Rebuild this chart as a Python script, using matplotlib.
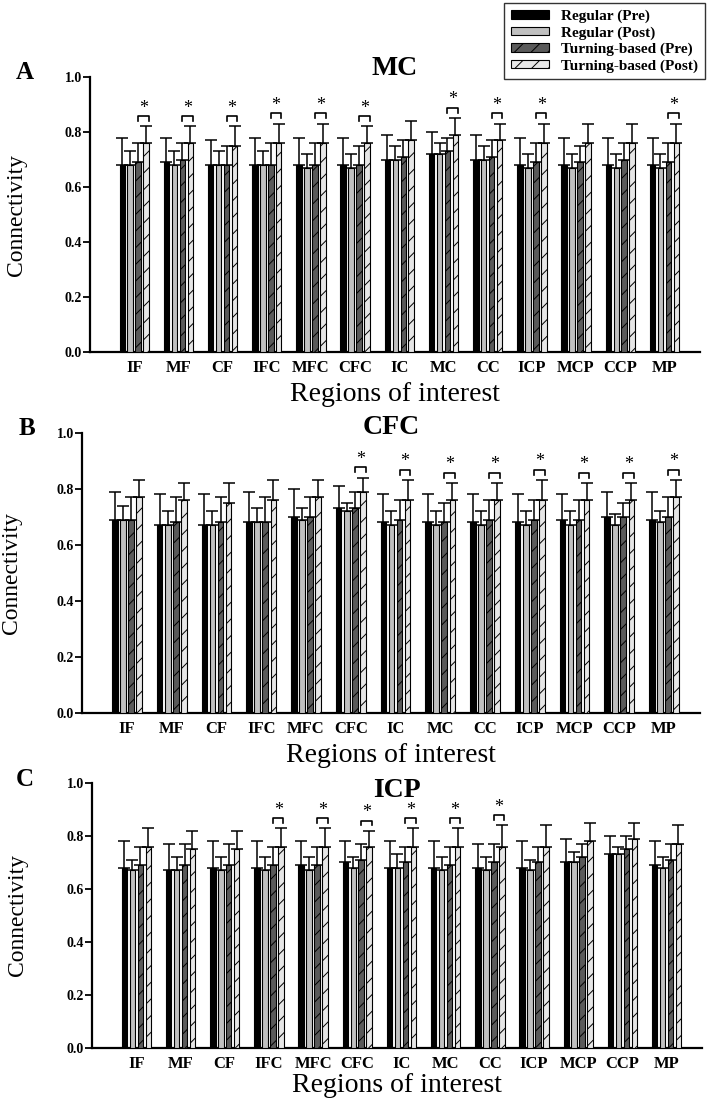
import matplotlib
matplotlib.use('Agg')
import matplotlib.pyplot as plt
import numpy as np

plt.rcParams['font.family'] = ['Liberation Serif', 'DejaVu Serif']
plt.rcParams['font.weight'] = 'bold'
plt.rcParams['hatch.linewidth'] = 0.7

regions = ['IF', 'MF', 'CF', 'IFC', 'MFC', 'CFC', 'IC', 'MC', 'CC', 'ICP', 'MCP', 'CCP', 'MP']
groups = ['Regular (Pre)', 'Regular (Post)', 'Turning-based (Pre)', 'Turning-based (Post)']

# panel A - seed MC
mc_reg_pre = [0.68, 0.69, 0.68, 0.68, 0.68, 0.68, 0.70, 0.72, 0.70, 0.68, 0.68, 0.68, 0.68]
mc_reg_post = [0.68, 0.68, 0.68, 0.68, 0.67, 0.67, 0.70, 0.72, 0.70, 0.67, 0.67, 0.67, 0.67]
mc_turn_pre = [0.69, 0.70, 0.68, 0.68, 0.68, 0.68, 0.71, 0.73, 0.71, 0.69, 0.69, 0.70, 0.69]
mc_turn_post = [0.76, 0.76, 0.75, 0.76, 0.76, 0.76, 0.77, 0.79, 0.77, 0.76, 0.76, 0.76, 0.76]
mc_reg_pre_sd = [0.10, 0.09, 0.09, 0.10, 0.10, 0.10, 0.09, 0.08, 0.09, 0.10, 0.10, 0.10, 0.10]
mc_reg_post_sd = [0.05, 0.05, 0.05, 0.05, 0.05, 0.05, 0.05, 0.04, 0.05, 0.05, 0.05, 0.05, 0.05]
mc_turn_pre_sd = [0.07, 0.06, 0.07, 0.08, 0.08, 0.07, 0.06, 0.05, 0.06, 0.07, 0.06, 0.06, 0.07]
mc_turn_post_sd = [0.06, 0.06, 0.07, 0.07, 0.07, 0.06, 0.07, 0.06, 0.06, 0.07, 0.07, 0.07, 0.07]
mc_sig = [1, 1, 1, 1, 1, 1, 0, 1, 1, 1, 0, 0, 1]

# panel B - seed CFC
cfc_reg_pre = [0.69, 0.67, 0.67, 0.68, 0.70, 0.73, 0.68, 0.68, 0.68, 0.68, 0.69, 0.70, 0.69]
cfc_reg_post = [0.69, 0.67, 0.67, 0.68, 0.69, 0.72, 0.67, 0.67, 0.67, 0.67, 0.67, 0.67, 0.68]
cfc_turn_pre = [0.69, 0.68, 0.68, 0.68, 0.70, 0.73, 0.69, 0.68, 0.69, 0.69, 0.69, 0.70, 0.70]
cfc_turn_post = [0.77, 0.76, 0.75, 0.76, 0.77, 0.79, 0.76, 0.76, 0.76, 0.76, 0.76, 0.76, 0.77]
cfc_reg_pre_sd = [0.10, 0.11, 0.11, 0.11, 0.10, 0.08, 0.10, 0.10, 0.10, 0.10, 0.09, 0.09, 0.10]
cfc_reg_post_sd = [0.05, 0.05, 0.05, 0.05, 0.04, 0.03, 0.05, 0.05, 0.05, 0.05, 0.05, 0.04, 0.04]
cfc_turn_pre_sd = [0.08, 0.09, 0.09, 0.09, 0.07, 0.06, 0.07, 0.07, 0.07, 0.07, 0.07, 0.05, 0.07]
cfc_turn_post_sd = [0.06, 0.06, 0.07, 0.07, 0.06, 0.05, 0.07, 0.06, 0.06, 0.07, 0.06, 0.06, 0.06]
cfc_sig = [0, 0, 0, 0, 0, 1, 1, 1, 1, 1, 1, 1, 1]

# panel C - seed ICP
icp_reg_pre = [0.68, 0.67, 0.68, 0.68, 0.69, 0.70, 0.68, 0.68, 0.68, 0.68, 0.70, 0.73, 0.69]
icp_reg_post = [0.67, 0.67, 0.67, 0.67, 0.67, 0.68, 0.68, 0.67, 0.67, 0.67, 0.70, 0.73, 0.68]
icp_turn_pre = [0.69, 0.69, 0.69, 0.69, 0.69, 0.71, 0.70, 0.69, 0.70, 0.70, 0.72, 0.75, 0.71]
icp_turn_post = [0.76, 0.75, 0.75, 0.76, 0.76, 0.76, 0.76, 0.76, 0.76, 0.76, 0.78, 0.79, 0.77]
icp_reg_pre_sd = [0.10, 0.10, 0.10, 0.10, 0.09, 0.08, 0.10, 0.10, 0.09, 0.10, 0.09, 0.07, 0.09]
icp_reg_post_sd = [0.04, 0.05, 0.05, 0.05, 0.05, 0.04, 0.05, 0.05, 0.05, 0.04, 0.04, 0.03, 0.04]
icp_turn_pre_sd = [0.07, 0.08, 0.08, 0.07, 0.07, 0.06, 0.06, 0.07, 0.07, 0.06, 0.05, 0.05, 0.06]
icp_turn_post_sd = [0.07, 0.07, 0.07, 0.07, 0.07, 0.06, 0.07, 0.07, 0.08, 0.08, 0.07, 0.06, 0.07]
icp_sig = [0, 0, 0, 1, 1, 1, 1, 1, 1, 0, 0, 0, 0]

bar_colors = ['#000000', '#c0c0c0', '#5a5a5a', '#e6e6e6']
bar_hatches = [None, None, '//', '//']
offsets = [-0.27, -0.09, 0.09, 0.27]
bar_w = 0.125


def draw_panel(ax, letter, title, means, sds, sig, letter_x, title_y, ylab_x, xlab_pad):
    x = np.arange(len(regions))
    handles = []
    for k in range(4):
        b = ax.bar(x + offsets[k], means[k], bar_w, color=bar_colors[k], edgecolor='black',
                   linewidth=0.8, hatch=bar_hatches[k], label=groups[k], zorder=3)
        handles.append(b)
        ax.errorbar(x + offsets[k], means[k], yerr=[np.zeros(len(x)), sds[k]], fmt='none',
                    ecolor='black', elinewidth=1.1, capsize=4.5, capthick=1.1, zorder=2)
    # significance brackets between turning-based pre and post
    for i in range(len(regions)):
        if not sig[i]:
            continue
        top = means[3][i] + sds[3][i]
        y0 = top + 0.02
        y1 = y0 + 0.018
        x0 = x[i] + offsets[2]
        x1 = x[i] + offsets[3] + 0.06
        ax.plot([x0, x0, x1, x1], [y0, y1, y1, y0], color='black', lw=1.2, zorder=4)
        ax.text((x0 + x1) / 2, y1 + 0.012, '*', ha='center', va='baseline',
                fontsize=13, fontweight='normal')

    ax.set_xlim(-1.0, 12.8)
    ax.set_ylim(0, 1.0)
    ax.set_xticks(x)
    ax.set_xticklabels(regions, fontsize=12)
    ax.set_yticks(np.arange(0, 1.01, 0.2))
    ax.set_yticklabels(['%.1f' % v for v in np.arange(0, 1.01, 0.2)], fontsize=10)
    ax.tick_params(axis='x', length=0, pad=6)
    ax.tick_params(axis='y', length=5, width=1.3, pad=1, direction='out')
    for s in ['top', 'right']:
        ax.spines[s].set_visible(False)
    for s in ['left', 'bottom']:
        ax.spines[s].set_linewidth(1.6)
    ax.set_xlabel('Regions of interest', fontsize=20, labelpad=xlab_pad)
    ax.set_ylabel('Connectivity', fontsize=17)
    ax.yaxis.set_label_coords(ylab_x, 0.5)
    ax.text(0.5, title_y, title, transform=ax.transAxes, ha='center', va='center', fontsize=20)
    ax.text(letter_x, 1.015, letter, transform=ax.transAxes, ha='center', va='center', fontsize=18)
    return handles


fig = plt.figure(figsize=(7.09, 11.0), dpi=100)
ax_a = fig.add_axes([0.127, 0.680, 0.860, 0.250])
ax_b = fig.add_axes([0.116, 0.352, 0.871, 0.2545])
ax_c = fig.add_axes([0.130, 0.0475, 0.860, 0.2407])

handles = draw_panel(ax_a, 'A', 'MC',
                     [mc_reg_pre, mc_reg_post, mc_turn_pre, mc_turn_post],
                     [mc_reg_pre_sd, mc_reg_post_sd, mc_turn_pre_sd, mc_turn_post_sd],
                     mc_sig, -0.107, 1.03, -0.103, 4)
draw_panel(ax_b, 'B', 'CFC',
           [cfc_reg_pre, cfc_reg_post, cfc_turn_pre, cfc_turn_post],
           [cfc_reg_pre_sd, cfc_reg_post_sd, cfc_turn_pre_sd, cfc_turn_post_sd],
           cfc_sig, -0.09, 1.02, -0.097, 4)
draw_panel(ax_c, 'C', 'ICP',
           [icp_reg_pre, icp_reg_post, icp_turn_pre, icp_turn_post],
           [icp_reg_pre_sd, icp_reg_post_sd, icp_turn_pre_sd, icp_turn_post_sd],
           icp_sig, -0.11, 0.97, -0.105, 1)

leg = fig.legend(handles, groups, loc='upper right', bbox_to_anchor=(0.997, 0.999),
                 fontsize=11, frameon=True, fancybox=False, edgecolor='black',
                 handlelength=2.5, handleheight=0.5, labelspacing=0.2, borderpad=0.45,
                 borderaxespad=0.1)
leg.get_frame().set_linewidth(1.0)

plt.savefig('out.png', dpi=100)
plt.close()
